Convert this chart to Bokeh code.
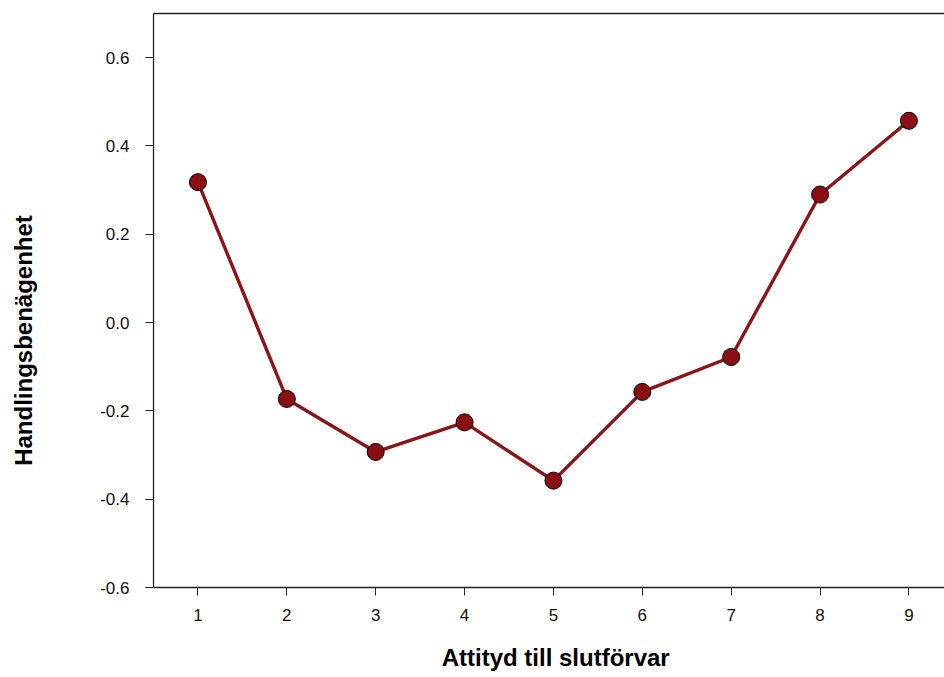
from bokeh.plotting import figure
from bokeh.models import LinearAxis, FixedTicker, Range1d
from bokeh.embed import file_html
from bokeh.resources import INLINE

x_vals = [1, 2, 3, 4, 5, 6, 7, 8, 9]
y_vals = [0.318, -0.173, -0.293, -0.226, -0.358, -0.157, -0.078, 0.29, 0.457]
y_ticks = [-0.6, -0.4, -0.2, 0.0, 0.2, 0.4, 0.6]
y_tick_labels = {-0.6: "-0.6", -0.4: "-0.4", -0.2: "-0.2", 0.0: "0.0", 0.2: "0.2", 0.4: "0.4", 0.6: "0.6"}
x_title = "Attityd till slutförvar"
y_title = "Handlingsbenägenhet"

FONT = "Liberation Sans"
NBSP = "\u00a0"

p = figure(width=944, height=677, output_backend="svg", toolbar_location=None,
           x_range=Range1d(0.5, 9.4), y_range=Range1d(-0.6, 0.7),
           min_border_left=153, min_border_right=0, min_border_top=13, min_border_bottom=90)
p.outline_line_color = None
p.grid.grid_line_color = None
p.background_fill_color = "white"
p.border_fill_color = "white"

for ax in (p.xaxis[0], p.yaxis[0]):
    ax.axis_line_color = "#222222"
    ax.axis_line_width = 1.3
    ax.major_tick_line_color = "#222222"
    ax.major_tick_in = 0
    ax.major_tick_out = 8
    ax.minor_tick_line_color = None
    ax.major_label_text_font = FONT
    ax.major_label_text_font_size = "17px"
    ax.major_label_text_color = "#111111"
    ax.axis_label_text_font = FONT
    ax.axis_label_text_font_style = "bold"
    ax.axis_label_text_font_size = "24px"
    ax.axis_label_text_color = "#000000"

p.xaxis.ticker = FixedTicker(ticks=x_vals)
p.xaxis.major_label_standoff = 13
# leading no-break spaces nudge the centred title slightly right, as in the reference
p.xaxis.axis_label = NBSP * 2 + x_title
p.xaxis.axis_label_standoff = 20

p.yaxis.ticker = FixedTicker(ticks=y_ticks)
p.yaxis.major_label_overrides = y_tick_labels
p.yaxis.major_label_standoff = 16
# trailing no-break spaces move the centred title down the axis, as in the reference
p.yaxis.axis_label = y_title + NBSP * 12
p.yaxis.axis_label_standoff = 60

top = LinearAxis(axis_line_color="#222222", axis_line_width=1.3,
                 ticker=FixedTicker(ticks=[]),
                 major_tick_line_color=None, minor_tick_line_color=None,
                 major_tick_out=0, major_tick_in=0, major_label_standoff=0)
p.add_layout(top, "above")

p.line(x_vals, y_vals, line_color="#8B1419", line_width=3.4)
p.scatter(x_vals, y_vals, size=17, fill_color="#8B0E14", line_color="#000000", line_width=1)

open("out.html", "w").write(file_html(p, INLINE))
